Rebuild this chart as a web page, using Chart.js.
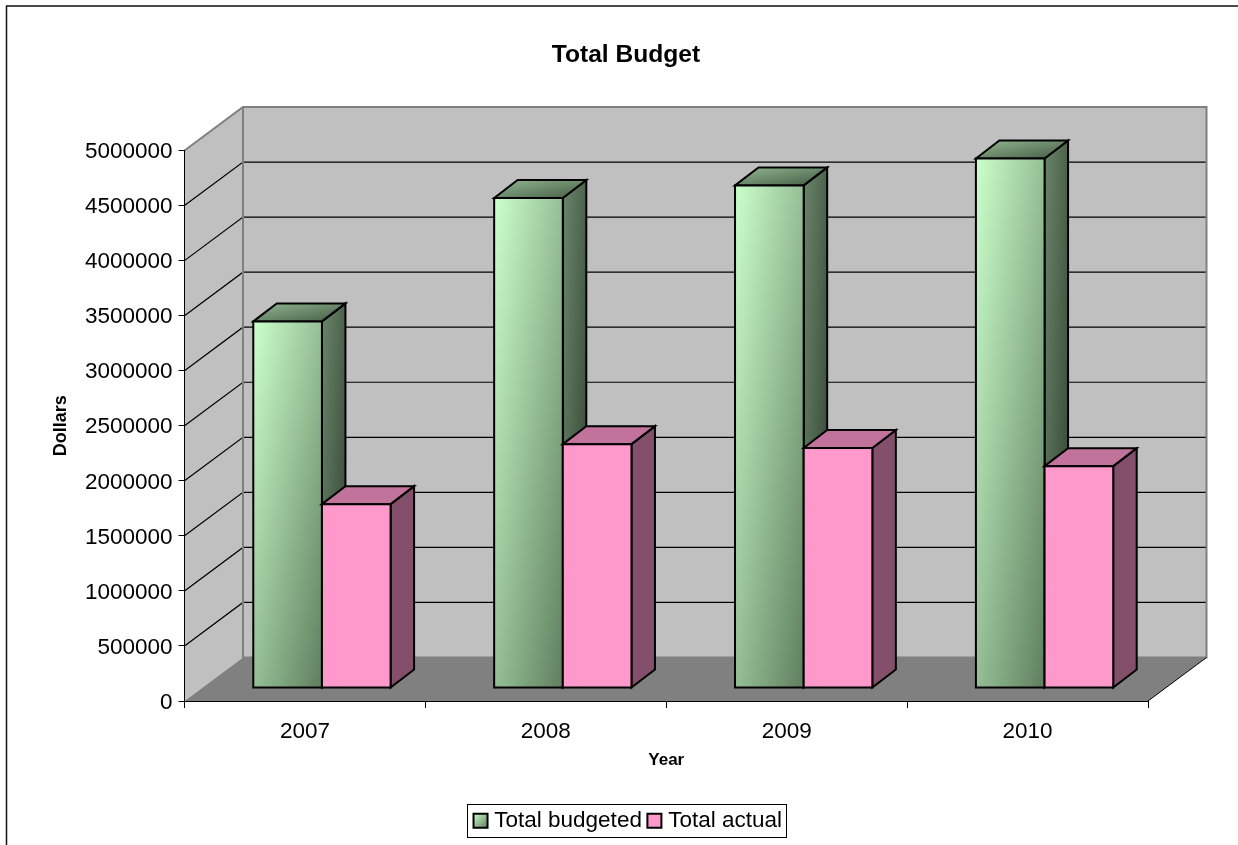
<!DOCTYPE html>
<html>
<head>
<meta charset="utf-8">
<title>Total Budget</title>
<script src="https://cdn.jsdelivr.net/npm/chart.js@4"></script>
<style>
  html, body { margin: 0; padding: 0; background: #fff; overflow: hidden; }
  #wrap { width: 1238px; height: 845px; position: relative; }
</style>
</head>
<body>
<div id="wrap"><canvas id="budget"></canvas></div>
<script>
const years = ['2007', '2008', '2009', '2010'];
const totalBudgeted = [3330000, 4450000, 4565000, 4810000];
const totalActual = [1670000, 2215000, 2180000, 2015000];

const FONT = '"Liberation Sans", Arial, sans-serif';

// Perspective of the 3D box: how far the back wall sits from the front axes,
// how deep one bar is, and how far a bar stands off the front edge of the floor.
const WALL_DX = 58.5, WALL_DY = -43.5;
const BAR_DX = 23.5, BAR_DY = -18;
const BAR_SHIFT_X = 17, BAR_SHIFT_Y = -13;

const GREEN = { light: [204, 255, 204], dark: [95, 127, 95] };
const PINK = { flat: '#FF99CC', side: '#844F6A', top: '#C2739B' };

const rgb = (c, k) => `rgb(${c.map(v => Math.round(v * k)).join(',')})`;

// Gradient whose iso-lines run parallel to the box's other diagonal, so the
// top-right and bottom-left corners land on the same midpoint colour.
function cornerGradient(ctx, x, y, w, h, from, to) {
  const d = w * w + h * h;
  const gx = 2 * w * h * h / d, gy = 2 * w * w * h / d;
  const g = ctx.createLinearGradient(x, y, x + gx, y + gy);
  g.addColorStop(0, from);
  g.addColorStop(1, to);
  return g;
}

function poly(ctx, pts, fill, stroke, lw) {
  ctx.beginPath();
  pts.forEach((p, i) => i ? ctx.lineTo(p[0], p[1]) : ctx.moveTo(p[0], p[1]));
  ctx.closePath();
  if (fill) { ctx.fillStyle = fill; ctx.fill(); }
  if (stroke) { ctx.strokeStyle = stroke; ctx.lineWidth = lw; ctx.lineJoin = 'miter'; ctx.stroke(); }
}

function drawBar(ctx, x0, x1, yTop, yBase, green) {
  const dx = BAR_DX, dy = BAR_DY, w = x1 - x0, h = yBase - yTop;
  let front, side, top;
  if (green) {
    front = cornerGradient(ctx, x0, yTop, w, h, rgb(GREEN.light, 1), rgb(GREEN.dark, 1));
    side = cornerGradient(ctx, x1, yTop + dy, dx, h - dy, rgb(GREEN.light, 0.52), rgb(GREEN.dark, 0.5));
    top = cornerGradient(ctx, x0, yTop + dy, w + dx, -dy, rgb(GREEN.light, 0.72), rgb(GREEN.dark, 0.72));
  } else {
    front = PINK.flat; side = PINK.side; top = PINK.top;
  }
  const lw = 2, ink = '#000';
  poly(ctx, [[x1, yTop], [x1 + dx, yTop + dy], [x1 + dx, yBase + dy], [x1, yBase]], side, ink, lw);
  poly(ctx, [[x0, yTop], [x0 + dx, yTop + dy], [x1 + dx, yTop + dy], [x1, yTop]], top, ink, lw);
  poly(ctx, [[x0, yTop], [x1, yTop], [x1, yBase], [x0, yBase]], front, ink, lw);
}

const box3d = {
  id: 'box3d',
  // Moves the title and legend to the centre of the chart frame.
  afterLayout(chart) {
    const nudgeTitle = 52, nudgeLegend = 53, dropLegend = 5;
    chart.titleBlock.left += nudgeTitle;
    chart.titleBlock.right += nudgeTitle;
    const lg = chart.legend;
    lg.left += nudgeLegend;
    lg.right += nudgeLegend;
    lg.top += dropLegend;
    lg.bottom += dropLegend;
    lg.legendHitBoxes.forEach(b => { b.left += nudgeLegend; b.top += dropLegend; });
  },
  // Chart frame, back wall, side wall and floor, all hung off the value scale.
  beforeDraw(chart) {
    const { ctx, scales: { x, y } } = chart;
    const l = x.left, r = x.right, t = y.getPixelForValue(5000000), b = y.getPixelForValue(0);
    ctx.save();
    ctx.fillStyle = '#fff';
    ctx.fillRect(0, 0, chart.width, chart.height);
    ctx.strokeStyle = '#111';
    ctx.lineWidth = 1.5;
    ctx.beginPath();
    ctx.moveTo(6.5, chart.height);
    ctx.lineTo(6.5, 6);
    ctx.lineTo(chart.width, 6);
    ctx.stroke();

    const dx = WALL_DX, dy = WALL_DY;
    poly(ctx, [[l, t], [l + dx, t + dy], [l + dx, b + dy], [l, b]], '#C0C0C0');
    poly(ctx, [[l + dx, t + dy], [r + dx, t + dy], [r + dx, b + dy], [l + dx, b + dy]], '#C0C0C0');
    poly(ctx, [[l, b], [l + dx, b + dy], [r + dx, b + dy], [r, b]], '#808080');

    ctx.strokeStyle = '#000';
    ctx.lineWidth = 1.2;
    y.ticks.forEach(tick => {
      if (tick.value === 0 || tick.value === 5000000) return;
      const py = y.getPixelForValue(tick.value);
      ctx.beginPath();
      ctx.moveTo(l, py);
      ctx.lineTo(l + dx, py + dy);
      ctx.lineTo(r + dx, py + dy);
      ctx.stroke();
    });

    ctx.strokeStyle = '#808080';
    ctx.lineWidth = 2;
    ctx.beginPath();
    ctx.moveTo(l, t);
    ctx.lineTo(l + dx, t + dy);
    ctx.lineTo(r + dx, t + dy);
    ctx.lineTo(r + dx, b + dy);
    ctx.lineTo(l + dx, b + dy);
    ctx.lineTo(l + dx, t + dy);
    ctx.stroke();

    ctx.strokeStyle = '#000';
    ctx.lineWidth = 1;
    ctx.beginPath();
    ctx.moveTo(r, b);
    ctx.lineTo(r + dx, b + dy);
    ctx.stroke();
    ctx.restore();
  },
  // Turns each bar element the library laid out into a three-faced block.
  afterDatasetsDraw(chart) {
    const { ctx } = chart;
    const budget = chart.getDatasetMeta(0).data, actual = chart.getDatasetMeta(1).data;
    ctx.save();
    budget.forEach((el, i) => {
      [[el, true], [actual[i], false]].forEach(([bar, green]) => {
        const half = bar.width / 2;
        drawBar(ctx, bar.x - half + BAR_SHIFT_X, bar.x + half + BAR_SHIFT_X,
                bar.y + BAR_SHIFT_Y, bar.base + BAR_SHIFT_Y, green);
      });
    });
    ctx.restore();
  },
  // Legend frame and its colour keys, centred on the legend's text row.
  afterDraw(chart) {
    const { ctx, legend } = chart;
    const labels = legend.options.labels;
    const midY = legend.top + labels.padding + labels.font.size / 2;
    const items = legend.legendHitBoxes;
    const left = items[0].left - 4.75, right = items[1].left + items[1].width + 4;
    ctx.save();
    ctx.strokeStyle = '#000';
    ctx.lineWidth = 1;
    ctx.strokeRect(Math.round(left) + 0.5, Math.round(midY - 16.5) + 0.5, Math.round(right - left), 33);
    const size = 14;
    items.forEach((b, i) => {
      const bx = b.left + 1.5, by = midY - size / 2;
      const fill = i === 0
        ? cornerGradient(ctx, bx, by, size, size, rgb(GREEN.light, 1), rgb(GREEN.dark, 1))
        : PINK.flat;
      poly(ctx, [[bx, by], [bx + size, by], [bx + size, by + size], [bx, by + size]], fill, '#000', 2);
    });
    ctx.restore();
  }
};

new Chart(document.getElementById('budget'), {
  type: 'bar',
  plugins: [box3d],
  data: {
    labels: years,
    datasets: [
      { label: 'Total budgeted', data: totalBudgeted, backgroundColor: 'transparent', borderWidth: 0 },
      { label: 'Total actual', data: totalActual, backgroundColor: 'transparent', borderWidth: 0 }
    ]
  },
  options: {
    responsive: true,
    maintainAspectRatio: false,
    animation: false,
    layout: { padding: { left: 0, right: 90, top: 0, bottom: 8 } },
    datasets: { bar: { barPercentage: 1, categoryPercentage: 0.57 } },
    plugins: {
      tooltip: { enabled: false },
      title: {
        display: true,
        text: 'Total Budget',
        color: '#000',
        font: { family: FONT, size: 24.6, weight: 'bold', lineHeight: 1.2 },
        padding: { top: 40.5, bottom: 80.5 }
      },
      legend: {
        display: true,
        position: 'bottom',
        labels: {
          color: '#000',
          font: { family: FONT, size: 22.5 },
          boxWidth: 11,
          boxHeight: 14,
          padding: 4,
          generateLabels(chart) {
            return chart.data.datasets.map((d, i) => ({
              text: d.label, fillStyle: 'transparent', strokeStyle: 'transparent',
              lineWidth: 0, datasetIndex: i, fontColor: '#000'
            }));
          }
        }
      }
    },
    scales: {
      x: {
        afterFit(scale) {
          scale.height = scale.chart.height - 701 - scale.chart.legend.height - 8;
        },
        grid: { display: true, drawOnChartArea: false, drawTicks: true, tickLength: 7, color: '#000', lineWidth: 1 },
        border: { display: true, color: '#000', width: 1 },
        ticks: { color: '#000', font: { family: FONT, size: 22.5 }, padding: 10, maxRotation: 0 },
        title: {
          display: true, text: 'Year', color: '#000',
          font: { family: FONT, size: 17, weight: 'bold' },
          padding: { top: 6, bottom: 30 }
        }
      },
      y: {
        min: 0,
        max: 5000000,
        afterFit(scale) { scale.width = 184.5; },
        grid: { display: true, drawOnChartArea: false, drawTicks: true, tickLength: 6, color: '#000', lineWidth: 1 },
        border: { display: true, color: '#000', width: 1 },
        ticks: {
          stepSize: 500000,
          color: '#000',
          font: { family: FONT, size: 22.5 },
          padding: 6,
          labelOffset: 1.5,
          callback: v => String(v)
        },
        title: {
          display: true, text: 'Dollars', color: '#000',
          font: { family: FONT, size: 18, weight: 'bold' },
          padding: { top: 50, bottom: 0 }
        }
      }
    }
  }
});
</script>
</body>
</html>
